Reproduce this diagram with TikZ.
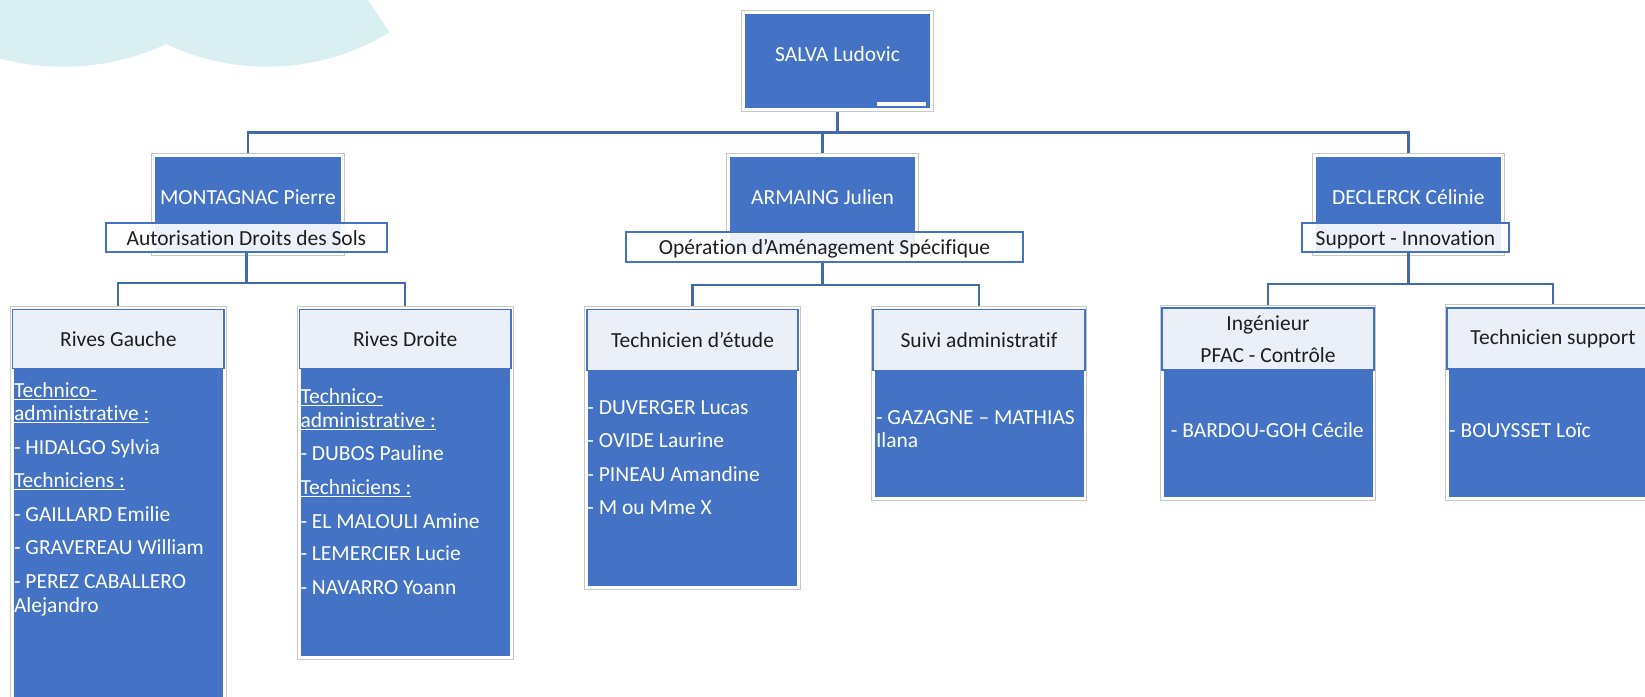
\documentclass[tikz,border=0pt]{standalone}
\usepackage{fontspec}
\setmainfont{Carlito}[Ligatures=NoCommon]
\usetikzlibrary{positioning,fit}

\definecolor{ofblue}{HTML}{4472C4}
\definecolor{linkblue}{HTML}{4369B0}
\definecolor{headfill}{HTML}{EBF0F8}
\definecolor{framegray}{HTML}{C8C8C8}
\definecolor{cloudcyan}{HTML}{D9EFF2}
\definecolor{inkdark}{HTML}{1E1E1E}

\tikzset{
  person/.style={fill=ofblue, text=white, inner sep=0pt, outer sep=0pt, minimum width=185.5pt, minimum height=94.2pt, text height=8pt, text depth=8pt},
  frame/.style={draw=framegray, line width=0.8pt, inner sep=3.5pt},
  unitlabel/.style={draw=ofblue, line width=1.8pt, fill=white, fill opacity=0.9, text opacity=1, text=inkdark, inner sep=0pt, minimum height=29.6pt, text height=15pt, text depth=0pt},
  teamhead/.style={draw=ofblue, line width=1.8pt, fill=headfill, text=inkdark, inner sep=0pt, outer sep=0pt, minimum width=211.5pt, align=center},
  teambody/.style={fill=ofblue, inner sep=0pt, outer sep=0pt, minimum width=209pt, anchor=north},
  members/.style={text=white, align=left, inner sep=0pt, anchor=north west},
  link/.style={draw=linkblue, line width=2.2pt}
}

\begin{document}
\begin{tikzpicture}[x=1pt,y=-1pt,every node/.style={font=\fontsize{21.5}{22.6}\selectfont}]
\useasboundingbox (0,0) rectangle (1645,696);
\clip (0,0) rectangle (1645,696);

\begin{scope}
  \clip (0,0) -- (368,0) -- (398,45) -- (398,90) -- (0,90) -- cycle;
  \fill[cloudcyan] (63,-179.3) circle[radius=246];
  \fill[cloudcyan] (267,-168.3) circle[radius=235];
\end{scope}

\node[person] (salva) at (837.5,61) {SALVA Ludovic};
\node[person] (montagnac) at (247.9,204.4) {MONTAGNAC Pierre};
\node[person] (armaing) at (822.5,204.4) {ARMAING Julien};
\node[person] (declerck) at (1408.4,204.4) {DECLERCK Célinie};
\foreach \who in {salva,montagnac,armaing,declerck}
  \node[frame, fit=(\who)] (\who-frame) {};
\fill[white] ([shift={(-53,-6.3)}]salva.south east) rectangle ([shift={(-4.3,-2.3)}]salva.south east);

\node[unitlabel, minimum width=280.7pt] (adsunit) at (246.4,237.5) {Autorisation Droits des Sols};
\node[unitlabel, minimum width=397.6pt] (osaunit) at (824.5,247) {Opération d’Aménagement Spécifique};
\node[unitlabel, minimum width=207.6pt] (siunit) at (1405.5,237.5) {Support - Innovation};

\node[teambody, minimum height=360pt] (rivesg-body) at (118.3,368.5) {};
\node[teamhead, minimum height=59pt, above=0pt of rivesg-body] (rivesg) {Rives Gauche};
\node[teambody, minimum height=287.2pt] (rivesd-body) at (405.2,368.5) {};
\node[teamhead, minimum height=59pt, above=0pt of rivesd-body] (rivesd) {Rives Droite};
\node[teambody, minimum height=215.5pt] (techetude-body) at (692.5,370.5) {};
\node[teamhead, minimum height=61pt, above=0pt of techetude-body] (techetude) {Technicien d’étude};
\node[teambody, minimum height=126.8pt] (suiviadm-body) at (979,370.5) {};
\node[teamhead, minimum height=61pt, above=0pt of suiviadm-body] (suiviadm) {Suivi administratif};
\node[teambody, minimum height=127.6pt] (ingpfac-body) at (1268,369.7) {};
\node[teamhead, minimum height=61.4pt, above=0pt of ingpfac-body] (ingpfac) {Ingénieur\\[9.7pt]PFAC - Contrôle};
\node[teambody, minimum height=128.1pt] (techsupp-body) at (1553,369.2) {};
\node[teamhead, minimum height=61pt, above=0pt of techsupp-body] (techsupp) {Technicien support};
\foreach \team in {rivesg,rivesd,techetude,suiviadm,ingpfac,techsupp}
  \node[frame, inner xsep=2pt, inner ysep=3.4pt, fit=(\team)(\team-body)] (\team-frame) {};

\node[members] (rivesg-txt) at (13.8,381.9) {\strut\underline{Technico-}\\%
\underline{administrative :}\\[10.9pt]%
- HIDALGO Sylvia\\[10.9pt]%
\underline{Techniciens :}\\[10.9pt]%
- GAILLARD Emilie\\[10.9pt]%
- GRAVEREAU William\\[10.9pt]%
- PEREZ CABALLERO\\[1.7pt]%
Alejandro};
\node[members] (rivesd-txt) at (300.3,387.9) {\strut\underline{Technico-}\\[1.4pt]%
\underline{administrative :}\\[10pt]%
- DUBOS Pauline\\[11.4pt]%
\underline{Techniciens :}\\[11.1pt]%
- EL MALOULI Amine\\[9.7pt]%
- LEMERCIER Lucie\\[11.4pt]%
- NAVARRO Yoann};
\node[members] (techetude-txt) at (587.2,398.5) {\strut- DUVERGER Lucas\\[10.7pt]%
- OVIDE Laurine\\[10.7pt]%
- PINEAU Amandine\\[10.7pt]%
- M ou Mme X};
\node[members] (suiviadm-txt) at (875.8,408.5) {\strut- GAZAGNE – MATHIAS\\%
Ilana};
\node[members] (ingpfac-txt) at (1170.7,421.2) {\strut- BARDOU-GOH Cécile};
\node[members] (techsupp-txt) at (1449,421.2) {\strut- BOUYSSET Loïc};

\foreach \who in {montagnac,armaing,declerck}
  \draw[link] (salva-frame.south) -- ++(0,20.5) -| (\who-frame.north);
\foreach \team in {rivesg,rivesd}
  \draw[link] (adsunit.south) -- ++(0,30) -| (\team-frame.north);
\foreach \team in {techetude,suiviadm}
  \draw[link] (osaunit.south -| armaing) -- ++(0,22) -| (\team-frame.north);
\foreach \team in {ingpfac,techsupp}
  \draw[link] (siunit.south -| declerck) -- ++(0,31) -| (\team-frame.north);
\end{tikzpicture}
\end{document}
